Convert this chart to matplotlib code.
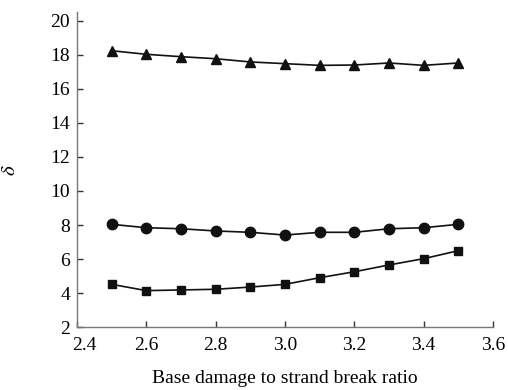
import numpy as np
import matplotlib
matplotlib.use("Agg")
import matplotlib.pyplot as plt
import matplotlib.transforms as mtransforms

# ratio on the x axis
ratio = [2.5, 2.6, 2.7, 2.8, 2.9, 3.0, 3.1, 3.2, 3.3, 3.4, 3.5]

# three series
delta_tri = [18.25, 18.04, 17.90, 17.78, 17.59, 17.49, 17.39, 17.41, 17.53, 17.39, 17.53]
delta_circ = [8.04, 7.84, 7.78, 7.65, 7.57, 7.41, 7.57, 7.57, 7.78, 7.84, 8.04]
delta_sq = [4.51, 4.14, 4.18, 4.22, 4.35, 4.51, 4.90, 5.25, 5.65, 6.02, 6.49]

xticks = [2.4, 2.6, 2.8, 3.0, 3.2, 3.4, 3.6]
yticks = [2, 4, 6, 8, 10, 12, 14, 16, 18, 20]

plt.rcParams['font.family'] = ['Liberation Serif', 'DejaVu Serif']
plt.rcParams['mathtext.fontset'] = 'stix'

fig = plt.figure(figsize=(5.08, 3.9), dpi=100)
ax = fig.add_axes([0.1516, 0.1615, 0.8189, 0.8065])

ax.plot(ratio, delta_tri, color='#111111', lw=1.2, marker='^', ms=7.5)
ax.plot(ratio, delta_circ, color='#111111', lw=1.2, marker='o', ms=7.5)
ax.plot(ratio, delta_sq, color='#111111', lw=1.2, marker='s', ms=6.2)

ax.set_xlim(2.4, 3.6)
ax.set_ylim(2, 20.5)
ax.set_xticks(xticks)
ax.set_xticklabels(['%.1f' % v for v in xticks])
ax.set_yticks(yticks)

for s in ['top', 'right']:
    ax.spines[s].set_visible(False)
for s in ['left', 'bottom']:
    ax.spines[s].set_color('#777777')
    ax.spines[s].set_linewidth(1.0)

ax.tick_params(direction='in', length=4, width=1.0, color='#333333',
               labelsize=14, pad=5)
ax.tick_params(axis='x', pad=7)

# first x label sits a little to the right, clear of the "2"
lab0 = ax.get_xticklabels()[0]
lab0.set_transform(lab0.get_transform() +
                   mtransforms.ScaledTranslation(7 / 100, 0, fig.dpi_scale_trans))

ax.set_xlabel('Base damage to strand break ratio', fontsize=14, labelpad=12)
ax.set_ylabel(r'$\delta$', fontsize=15, labelpad=22)

fig.savefig('out.png', dpi=100)
